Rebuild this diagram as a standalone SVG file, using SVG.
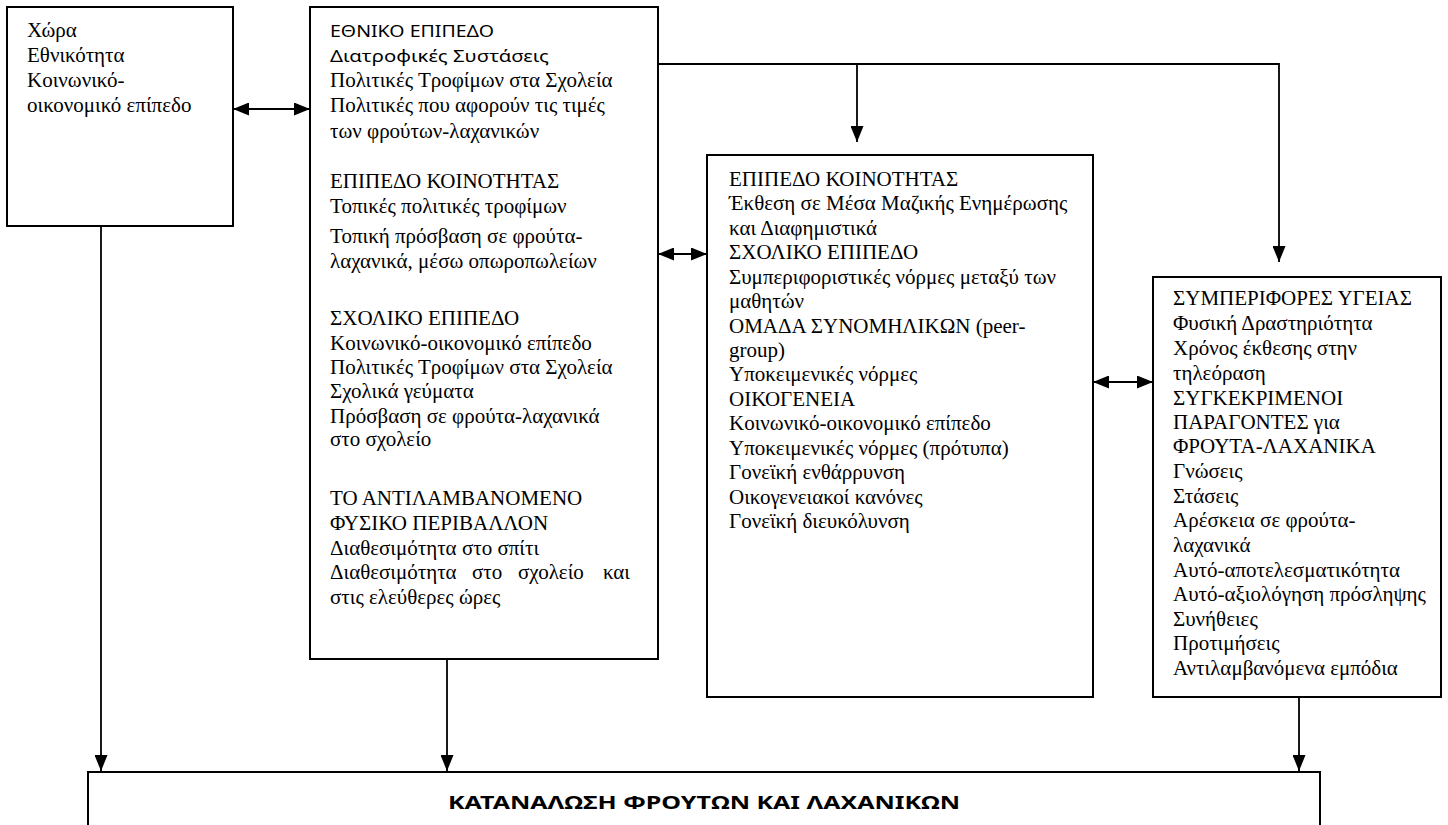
<svg xmlns="http://www.w3.org/2000/svg" width="1448" height="825" viewBox="0 0 1448 825">
<style>
  .box { fill: #ffffff; stroke: #000000; stroke-width: 2; }
  .t { font-family: "Liberation Serif", "Times New Roman", serif; font-size: 21px; fill: #000000; }
  .s { font-family: "Noto Sans", "Liberation Sans", sans-serif; font-size: 17px; fill: #000000; }
  .b { font-family: "Noto Sans", "Liberation Sans", sans-serif; font-size: 18px; font-weight: bold; fill: #000000; }
  .c { fill: none; stroke: #000000; stroke-width: 1.8; }
</style>
<defs>
  <marker id="ah" viewBox="0 0 16 13" markerWidth="16" markerHeight="13" refX="16" refY="6.5" orient="auto-start-reverse" markerUnits="userSpaceOnUse">
    <path d="M0,0 L16,6.5 L0,13 z" fill="#000000"/>
  </marker>
</defs>
<rect width="1448" height="825" fill="#ffffff"/>

<g id="connectors">
  <path class="c" d="M233,109 H310" marker-start="url(#ah)" marker-end="url(#ah)"/>
  <path class="c" d="M658,64 H1279 V262" marker-end="url(#ah)"/>
  <path class="c" d="M857,64 V142" marker-end="url(#ah)"/>
  <path class="c" d="M658,254 H707" marker-start="url(#ah)" marker-end="url(#ah)"/>
  <path class="c" d="M1093,382 H1153" marker-start="url(#ah)" marker-end="url(#ah)"/>
  <path class="c" d="M101,226 V771" marker-end="url(#ah)"/>
  <path class="c" d="M447,659 V771" marker-end="url(#ah)"/>
  <path class="c" d="M1299,697 V771" marker-end="url(#ah)"/>
</g>

<g id="node-country">
  <rect class="box" x="7" y="7" width="226" height="219"/>
  <text class="t" x="27" y="37">Χώρα</text>
  <text class="t" x="27" y="62">Εθνικότητα</text>
  <text class="t" x="27" y="87">Κοινωνικό-</text>
  <text class="t" x="27" y="112">οικονομικό επίπεδο</text>
</g>

<g id="node-environment">
  <rect class="box" x="310" y="7" width="348" height="652"/>
  <text class="s" x="330" y="37" textLength="164" lengthAdjust="spacingAndGlyphs">ΕΘΝΙΚΟ ΕΠΙΠΕΔΟ</text>
  <text class="s" x="330" y="62" textLength="219" lengthAdjust="spacingAndGlyphs">Διατροφικές Συστάσεις</text>
  <text class="t" x="330" y="87">Πολιτικές Τροφίμων στα Σχολεία</text>
  <text class="t" x="330" y="112">Πολιτικές που αφορούν τις τιμές</text>
  <text class="t" x="330" y="138">των φρούτων-λαχανικών</text>
  <text class="t" x="330" y="188">ΕΠΙΠΕΔΟ ΚΟΙΝΟΤΗΤΑΣ</text>
  <text class="t" x="330" y="213">Τοπικές πολιτικές τροφίμων</text>
  <text class="t" x="330" y="243">Τοπική πρόσβαση σε φρούτα-</text>
  <text class="t" x="330" y="268">λαχανικά, μέσω οπωροπωλείων</text>
  <text class="t" x="330" y="325">ΣΧΟΛΙΚΟ ΕΠΙΠΕΔΟ</text>
  <text class="t" x="330" y="350">Κοινωνικό-οικονομικό επίπεδο</text>
  <text class="t" x="330" y="374">Πολιτικές Τροφίμων στα Σχολεία</text>
  <text class="t" x="330" y="398">Σχολικά γεύματα</text>
  <text class="t" x="330" y="423">Πρόσβαση σε φρούτα-λαχανικά</text>
  <text class="t" x="330" y="446">στο σχολείο</text>
  <text class="t" x="330" y="505">ΤΟ ΑΝΤΙΛΑΜΒΑΝΟΜΕΝΟ</text>
  <text class="t" x="330" y="530">ΦΥΣΙΚΟ ΠΕΡΙΒΑΛΛΟΝ</text>
  <text class="t" x="330" y="555">Διαθεσιμότητα στο σπίτι</text>
  <text class="t" y="579"><tspan x="330">Διαθεσιμότητα</tspan><tspan x="472">στο</tspan><tspan x="518">σχολείο</tspan></text>
  <text class="t" x="630" y="579" text-anchor="end">και</text>
  <text class="t" x="330" y="604">στις ελεύθερες ώρες</text>
</g>

<g id="node-social">
  <rect class="box" x="707" y="155" width="386" height="542"/>
  <text class="t" x="729" y="186">ΕΠΙΠΕΔΟ ΚΟΙΝΟΤΗΤΑΣ</text>
  <text class="t" x="729" y="210">Έκθεση σε Μέσα Μαζικής Ενημέρωσης</text>
  <text class="t" x="729" y="235">και Διαφημιστικά</text>
  <text class="t" x="729" y="259">ΣΧΟΛΙΚΟ ΕΠΙΠΕΔΟ</text>
  <text class="t" x="729" y="284">Συμπεριφοριστικές νόρμες μεταξύ των</text>
  <text class="t" x="729" y="308">μαθητών</text>
  <text class="t" x="729" y="333">ΟΜΑΔΑ ΣΥΝΟΜΗΛΙΚΩΝ (peer-</text>
  <text class="t" x="729" y="357">group)</text>
  <text class="t" x="729" y="381">Υποκειμενικές νόρμες</text>
  <text class="t" x="729" y="406">ΟΙΚΟΓΕΝΕΙΑ</text>
  <text class="t" x="729" y="430">Κοινωνικό-οικονομικό επίπεδο</text>
  <text class="t" x="729" y="455">Υποκειμενικές νόρμες (πρότυπα)</text>
  <text class="t" x="729" y="479">Γονεϊκή ενθάρρυνση</text>
  <text class="t" x="729" y="504">Οικογενειακοί κανόνες</text>
  <text class="t" x="729" y="528">Γονεϊκή διευκόλυνση</text>
</g>

<g id="node-individual">
  <rect class="box" x="1153" y="277" width="288" height="420"/>
  <text class="t" x="1173" y="305">ΣΥΜΠΕΡΙΦΟΡΕΣ ΥΓΕΙΑΣ</text>
  <text class="t" x="1173" y="330">Φυσική Δραστηριότητα</text>
  <text class="t" x="1173" y="355">Χρόνος έκθεσης στην</text>
  <text class="t" x="1173" y="380">τηλεόραση</text>
  <text class="t" x="1173" y="405">ΣΥΓΚΕΚΡΙΜΕΝΟΙ</text>
  <text class="t" x="1173" y="429">ΠΑΡΑΓΟΝΤΕΣ για</text>
  <text class="t" x="1173" y="453">ΦΡΟΥΤΑ-ΛΑΧΑΝΙΚΑ</text>
  <text class="t" x="1173" y="478">Γνώσεις</text>
  <text class="t" x="1173" y="503">Στάσεις</text>
  <text class="t" x="1173" y="527">Αρέσκεια σε φρούτα-</text>
  <text class="t" x="1173" y="552">λαχανικά</text>
  <text class="t" x="1173" y="577">Αυτό-αποτελεσματικότητα</text>
  <text class="t" x="1173" y="601">Αυτό-αξιολόγηση πρόσληψης</text>
  <text class="t" x="1173" y="626">Συνήθειες</text>
  <text class="t" x="1173" y="650">Προτιμήσεις</text>
  <text class="t" x="1173" y="675">Αντιλαμβανόμενα εμπόδια</text>
</g>

<g id="node-consumption">
  <rect class="box" x="88" y="772" width="1232" height="80"/>
  <text class="b" x="704" y="809" text-anchor="middle" textLength="512" lengthAdjust="spacingAndGlyphs">ΚΑΤΑΝΑΛΩΣΗ ΦΡΟΥΤΩΝ ΚΑΙ ΛΑΧΑΝΙΚΩΝ</text>
</g>
</svg>
